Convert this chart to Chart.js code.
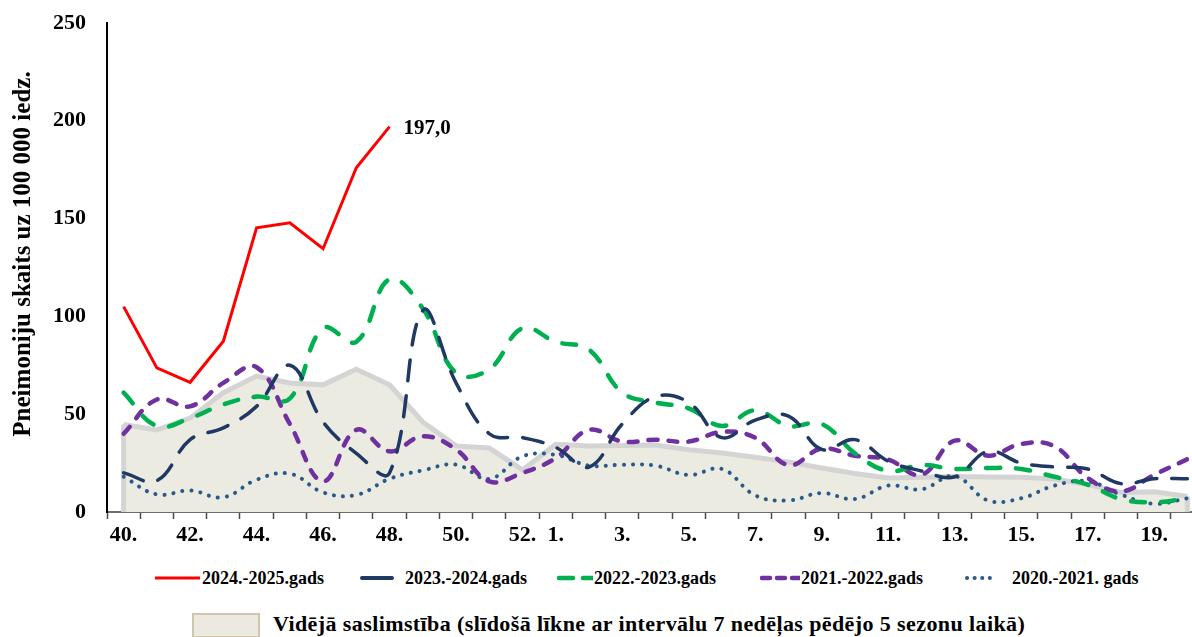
<!DOCTYPE html>
<html>
<head>
<meta charset="utf-8">
<script src="https://cdn.jsdelivr.net/npm/chart.js@4.4.1/dist/chart.umd.min.js"></script>
<style>
  body { margin: 0; background: #fff; overflow: hidden; width: 1192px; height: 637px; position: relative;
         font-family: 'Liberation Serif', 'Times New Roman', serif; font-weight: bold; color: #000; }
  #wrap { position: absolute; left: 0; top: 0; width: 1204px; height: 552px; }
  .leg { position: absolute; top: 568px; height: 20px; line-height: 20px; font-size: 18px; white-space: nowrap; }
  .leg svg { position: absolute; top: 0; }
  .leg span { position: absolute; top: 0; }
  #avgBox { position: absolute; left: 192px; top: 613px; width: 64px; height: 21px; background: #ece9e0; border: 2px solid #cdc6ad; }
  #avgText { position: absolute; left: 273px; top: 612px; line-height: 24px; font-size: 22px; letter-spacing: 0.4px; white-space: nowrap; }
</style>
</head>
<body>
<div id="wrap"><canvas id="pneuChart" width="1204" height="552"></canvas></div>

<!-- legend, drawn by hand because the two rows don't fit chart.js legend layout -->
<div class="leg" style="left:155px"><svg width="46" height="20"><line x1="0" y1="10" x2="45" y2="10" stroke="#ff0000" stroke-width="3"/></svg><span style="left:47px">2024.-2025.gads</span></div>
<div class="leg" style="left:360px"><svg width="34" height="20"><line x1="2" y1="10" x2="32" y2="10" stroke="#1f3864" stroke-width="4" stroke-linecap="round"/></svg><span style="left:45px">2023.-2024.gads</span></div>
<div class="leg" style="left:557px"><svg width="36" height="20"><line x1="2" y1="10" x2="36" y2="10" stroke="#00b050" stroke-width="4.5" stroke-linecap="round" stroke-dasharray="14 10"/></svg><span style="left:37px">2022.-2023.gads</span></div>
<div class="leg" style="left:760px"><svg width="40" height="20"><line x1="2" y1="10" x2="40" y2="10" stroke="#7030a0" stroke-width="4.5" stroke-linecap="round" stroke-dasharray="8 7"/></svg><span style="left:41px">2021.-2022.gads</span></div>
<div class="leg" style="left:965px"><svg width="34" height="20"><line x1="2" y1="10" x2="32" y2="10" stroke="#2a5a8c" stroke-width="4" stroke-linecap="round" stroke-dasharray="0.1 7.5"/></svg><span style="left:47px">2020.-2021. gads</span></div>
<div id="avgBox"></div>
<div id="avgText">Vidējā saslimstība (slīdošā līkne ar intervālu 7 nedēļas pēdējo 5 sezonu laikā)</div>

<script>
// weeks of the season: 40..52 then 1..20
const weeks = ['40','41','42','43','44','45','46','47','48','49','50','51','52',
               '1','2','3','4','5','6','7','8','9','10','11','12','13','14','15','16','17','18','19','20'];

const yTicks = [0, 50, 100, 150, 200, 250];

// cases per 100 000 inhabitants
const s2425 = [105, 73.7, 66.3, 87.3, 145.3, 147.9, 134.6, 176, 197.0];
const s2324 = [20, 16, 37, 43, 54, 75, 46, 30, 20, 103, 66, 40, 38, 33, 23, 45, 59, 56, 38, 47, 49, 32, 37, 26, 21, 18, 31, 25, 23, 22, 14.5, 17, 17];
const s2223 = [61, 44, 48, 55, 59, 58, 94, 87, 119, 104, 71, 73, 94, 87, 83, 61, 56, 53, 44, 52, 44, 45, 30, 21, 24, 22, 22.5, 22, 18, 14, 6.6, 5, 7];
const s2122 = [40, 57.5, 54, 66, 74, 45, 15.7, 42, 31, 38.7, 32, 15.7, 20, 27.6, 42, 36, 37, 36, 41, 38, 24, 32.4, 28.8, 26.8, 19, 36.5, 28.8, 34.8, 33.6, 17.4, 10.5, 19, 27];
const s2021 = [18, 9, 11, 7.5, 16.5, 19.6, 10, 8.7, 17, 21.3, 24.2, 16.9, 28.5, 29.2, 23.7, 24.2, 23.7, 18.9, 22, 8.5, 5.9, 9.7, 6.6, 13.5, 11.6, 18.4, 5.9, 7, 13.5, 15.7, 8.9, 4.2, 7];
const avgSeason = [44.7, 42, 48, 61, 69.5, 66, 65, 73, 65, 46, 33.8, 32.7, 21.5, 34.6, 33.8, 34, 34.2, 31.8, 30.2, 28, 25.6, 22.5, 19.7, 17.4, 17.8, 18.1, 17.9, 17.8, 16.9, 14, 10, 10.4, 8];

const yTitle = 'Pneimoniju skaits uz 100 000 iedz.';
const serif = "'Liberation Serif', 'Times New Roman', serif";

// extra bits: grey side edges of the average area, the "197,0" label and the y title
const extras = {
    id: 'extras',
    afterDatasetDraw(chart, args) {
        if (args.index !== 0) return;
        const x = chart.scales.x, y = chart.scales.y, ctx = chart.ctx;
        ctx.save();
        ctx.strokeStyle = '#d4d4d4';
        ctx.lineWidth = 5;
        [0, avgSeason.length - 1].forEach(i => {
            ctx.beginPath();
            ctx.moveTo(x.getPixelForValue(i), y.getPixelForValue(avgSeason[i]));
            ctx.lineTo(x.getPixelForValue(i), y.getPixelForValue(0));
            ctx.stroke();
        });
        ctx.restore();
    },
    afterDatasetsDraw(chart) {
        const meta = chart.getDatasetMeta(1);
        const lastIdx = s2425.length - 1;
        const pt = meta.data[lastIdx];
        const ctx = chart.ctx;
        ctx.save();
        ctx.font = 'bold 21px ' + serif;
        ctx.fillStyle = '#000';
        ctx.textBaseline = 'middle';
        ctx.fillText(s2425[lastIdx].toFixed(1).replace('.', ','), pt.x + 14, pt.y + 2);
        // y title sits a bit above the middle of the axis in the original
        ctx.font = 'bold 25px ' + serif;
        ctx.textAlign = 'center';
        ctx.translate(24, 254);
        ctx.rotate(-Math.PI / 2);
        ctx.fillText(yTitle, 0, 0);
        ctx.restore();
    }
};

new Chart(document.getElementById('pneuChart'), {
    type: 'line',
    data: {
        labels: weeks,
        datasets: [
            {
                label: 'Vidējā saslimstība',
                data: avgSeason,
                fill: 'origin',
                backgroundColor: '#ecebe1',
                borderColor: '#d4d4d4',
                borderWidth: 5,
                tension: 0,
                pointRadius: 0,
                order: 10
            },
            {
                label: '2024.-2025.gads',
                data: s2425,
                borderColor: '#ff0000',
                borderWidth: 3,
                tension: 0,
                pointRadius: 0,
                order: 1
            },
            {
                label: '2023.-2024.gads',
                data: s2324,
                borderColor: '#1f3864',
                borderWidth: 3.5,
                borderDash: [21, 15],
                borderCapStyle: 'round',
                tension: 0.4,
                pointRadius: 0,
                order: 2
            },
            {
                label: '2022.-2023.gads',
                data: s2223,
                borderColor: '#00b050',
                borderWidth: 4.5,
                borderDash: [14, 16],
                borderCapStyle: 'round',
                tension: 0.4,
                pointRadius: 0,
                order: 3
            },
            {
                label: '2021.-2022.gads',
                data: s2122,
                borderColor: '#7030a0',
                borderWidth: 4.5,
                borderDash: [9, 11],
                borderCapStyle: 'round',
                tension: 0.4,
                pointRadius: 0,
                order: 4
            },
            {
                label: '2020.-2021. gads',
                data: s2021,
                borderColor: '#2a5a8c',
                borderWidth: 4,
                borderDash: [0.1, 9],
                borderCapStyle: 'round',
                tension: 0.4,
                pointRadius: 0,
                order: 5
            }
        ]
    },
    options: {
        responsive: false,
        animation: false,
        layout: { padding: { top: 23, left: 0, right: 0, bottom: 0 } },
        plugins: {
            legend: { display: false },
            tooltip: { enabled: false }
        },
        scales: {
            x: {
                offset: true, // categories sit between the tick marks
                afterFit: (s) => { s.height = 40; },
                border: { display: true, color: '#6d6d6d', width: 2 },
                grid: {
                    offset: true,
                    drawOnChartArea: false,
                    drawTicks: true,
                    tickLength: 7,
                    tickColor: '#4a4a4a',
                    tickWidth: 1.5
                },
                ticks: {
                    autoSkip: false,
                    maxRotation: 0,
                    padding: 3,
                    color: '#000',
                    font: { family: serif, size: 22, weight: 'bold' },
                    // every second week, but both 52 and 1 are shown
                    callback: (v, i) => {
                        const k = i <= 12 ? i : i - 13;
                        return k % 2 === 0 ? weeks[i] + '.' : '';
                    }
                }
            },
            y: {
                min: 0,
                max: 250,
                afterFit: (s) => { s.width = 107; },
                afterBuildTicks: (s) => { s.ticks = yTicks.map(v => ({ value: v })); },
                border: { display: true, color: '#000', width: 2 },
                // invisible tick marks push the labels away from the axis;
                // tick padding alone would also push the chart area down
                grid: { drawOnChartArea: false, drawTicks: true, tickLength: 19, tickColor: 'rgba(0,0,0,0)' },
                ticks: {
                    padding: 2,
                    color: '#000',
                    font: { family: serif, size: 22, weight: 'bold' }
                }
            }
        }
    },
    plugins: [extras]
});
</script>
</body>
</html>
